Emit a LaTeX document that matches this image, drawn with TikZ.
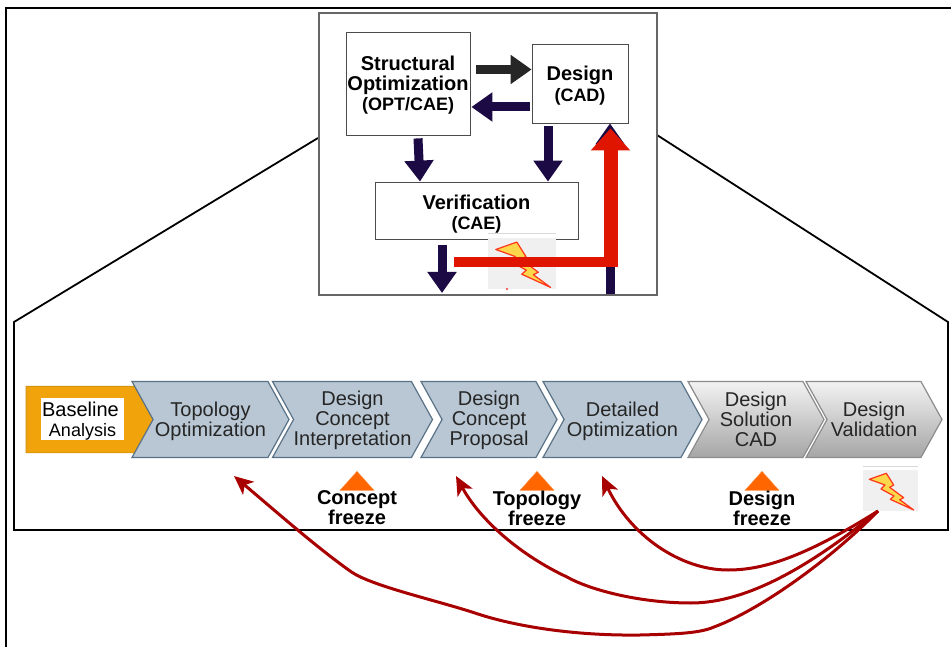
\documentclass[tikz,border=0pt]{standalone}
\usepackage{fontspec}
\setmainfont{Liberation Sans}
\usepackage{tikz}
\usetikzlibrary{arrows.meta,shapes.symbols,shapes.arrows,shapes.geometric,positioning}
\newcommand*{\lbl}{\fontsize{20}{20}\selectfont}
\newcommand*{\sublbl}{\fontsize{18}{20}\selectfont}
\newcommand*{\dn}[1]{\rule{0pt}{#1pt}}
\definecolor{navyarrow}{HTML}{1C0A45}
\definecolor{redarrow}{HTML}{E01500}
\definecolor{darkred}{HTML}{A80000}
\definecolor{stagefill}{HTML}{B8C7D3}
\definecolor{stageline}{HTML}{5A7287}
\definecolor{basefill}{HTML}{F0A30A}
\definecolor{baseline}{HTML}{C88A10}
\tikzset{
  pics/bolt/.style={code={
    \fill[white!94!black] (0,0) rectangle (55,41);
    \draw[white!85!black,line width=.7pt] (0,-4) -- (55,-4);
    \draw[fill=yellow!60!orange!70,draw=red!75!orange!90,line width=1.2pt,line join=round]
      (6.3,9.3) -- (23.3,3.3) -- (30.7,15) -- (26.7,17.3) -- (40.7,27.7) -- (36.7,29.7)
      -- (50.7,40) -- (27.3,29.3) -- (31,26) -- (18,19) -- (22,15) -- cycle;
  }}
}
\begin{document}
\begin{tikzpicture}[x=1pt,y=-1pt,>=Triangle,semithick,text=black!85]
\tikzstyle{box}=[draw=black!70,fill=white,thick,align=center,inner sep=0pt,font=\lbl\bfseries,text=black]
\tikzstyle{stage}=[signal,signal from=west,signal to=east,signal pointer angle=122,minimum height=76pt,
  inner sep=0pt,align=center,font=\lbl,draw=stageline,fill=stagefill,line width=1.2pt]
\tikzstyle{stagegray}=[stage,draw=black!45,top color=black!5,bottom color=black!35]
\tikzstyle{gate}=[isosceles triangle,isosceles triangle apex angle=83,isosceles triangle stretches,shape border rotate=90,
  minimum width=34pt,minimum height=19pt,inner sep=0pt,anchor=apex,fill=orange!80!red,draw=orange!80!red!70,thin]
\tikzstyle{gatetext}=[align=center,inner sep=0pt,font=\lbl\bfseries,text=black]
\tikzstyle{flow}=[->,line width=9pt,color=navyarrow,>={Triangle[width=28pt,length=21pt]}]
\tikzstyle{back}=[->,line width=3pt,color=darkred,>={Stealth[length=19pt,width=17pt,inset=5pt]}]
\useasboundingbox (0,0) rectangle (951,647);

% frames
\draw[line width=2.5pt] (6,647) -- (6,8) -- (951,8);
\draw[line width=1.8pt] (318,138) -- (14,322) -- (14,530) -- (948,530) -- (948,322) -- (657,135);
\node[draw=black!60,fill=white,line width=1.3pt,minimum width=338pt,minimum height=282pt,inner sep=0pt] (loop) at (488,154) {};

% top loop
\node[box,minimum width=124pt,minimum height=103pt] (struct) at (408,83.5)
  {\dn{18.5}Structural\\Optimization\\{\sublbl (OPT/CAE)}};
\node[box,minimum width=96pt,minimum height=79pt] (design)[right of=struct,node distance=172pt]
  {\dn{19.5}Design\\[1pt]{\sublbl (CAD)}};
\node[box,minimum width=203pt,minimum height=57pt] (verif) at (476.5,210.5)
  {\dn{22.5}Verification\\{\sublbl (CAE)}};
\pic at (488,238) [scale=1.236] {bolt};
\fill[red!80] (507,289) circle (1.2pt);
\coordinate (verifOut) at (442,293);
\coordinate (cadIn) at (610,294);
\coordinate (redStart) at (454,262);
\coordinate (redCorner) at (618,262);

\draw[flow,color=black!85] ([xshift=6pt,yshift=14pt]struct.east) -- ([yshift=14pt]design.west);
\draw[flow] ([xshift=-2pt,yshift=-23.5pt]design.west) -- ([xshift=1pt,yshift=-23.5pt]struct.east);
\draw[flow] ([xshift=10pt,yshift=-3pt]struct.south) -- ([xshift=-56.5pt]verif.north);
\draw[flow] ([xshift=-32pt,yshift=-3pt]design.south) -- ([xshift=71.5pt]verif.north);
\draw[flow] ([xshift=-34.5pt,yshift=-6pt]verif.south) -- (verifOut);
\draw[flow] (cadIn) -- ([xshift=30pt]design.south);
\draw[->,line width=14pt,color=redarrow,>={Triangle[width=38pt,length=22pt]}]
  ([xshift=-7.5pt]redCorner) -- ([xshift=30.5pt,yshift=-5pt]design.south);
\draw[line width=10pt,color=redarrow] (redStart) -- (redCorner);

% process chain
\node[single arrow,single arrow head extend=4.5pt,single arrow tip angle=113,single arrow head indent=0pt,
  text height=33pt,text depth=33pt,minimum height=133pt,inner sep=0pt,fill=basefill,draw=baseline] (base) at (81.5,419.5) {};
\node[fill=white,inner sep=0pt,minimum width=83pt,minimum height=38pt,align=center,font=\lbl,text=black] (baselabel) at (82.5,419)
  {\dn{18.5}Baseline\hspace*{4pt}\\{\sublbl Analysis}};
\node[stage,minimum width=157pt] (topo) at (210.5,419.5) {\dn{18.5}Topology\\Optimization};
\node[stage,minimum width=159pt] (interp)[right of=topo,node distance=142pt] {\dn{16.5}Design\\Concept\\Interpretation};
\node[stage,minimum width=136pt] (prop)[right of=interp,node distance=136.5pt] {\dn{16.5}Design\\Concept\\Proposal};
\node[stage,minimum width=159pt] (detail)[right of=prop,node distance=133.5pt] {\dn{18.5}Detailed\\Optimization};
\node[stagegray,minimum width=136pt] (solution)[right of=detail,node distance=133.5pt] {Design\\Solution\\CAD};
\node[stagegray,minimum width=136pt] (valid)[right of=solution,node distance=118pt] {Design\\Validation};

% freezes
\node[gate] (gateA) at (357,471) {};
\node[gate] (gateB) at (537,471) {};
\node[gate] (gateC) at (762,471) {};
\node[gatetext] (freezeA)[below=0pt of gateA.south] {Concept\\freeze};
\node[gatetext] (freezeB)[below=0pt of gateB.south] {Topology\\freeze};
\node[gatetext] (freezeC)[below=0pt of gateC.south] {Design\\freeze};
\pic at (863,470) {bolt};

% feedback
\coordinate (boltOut) at (878,511);
\coordinate (backA) at (234,476);
\coordinate (backB) at (456,476);
\coordinate (backC) at (602,476);
\draw[back] (boltOut) .. controls (800,560) and (760,570) .. (728,570)
  .. controls (680,570) and (630,535) .. (backC);
\draw[back] (boltOut) .. controls (800,575) and (740,603) .. (691,603)
  .. controls (640,603) and (590,590) .. (567,577)
  .. controls (520,555) and (480,520) .. (backB);
\draw[back] (boltOut) .. controls (830,560) and (760,610) .. (714,627)
  .. controls (700,633) and (680,634) .. (640,635)
  .. controls (570,636) and (510,625) .. (475,613)
  .. controls (435,600) and (372,586) .. (351.5,572)
  .. controls (320,550) and (280,515) .. (backA);
\end{tikzpicture}
\end{document}
